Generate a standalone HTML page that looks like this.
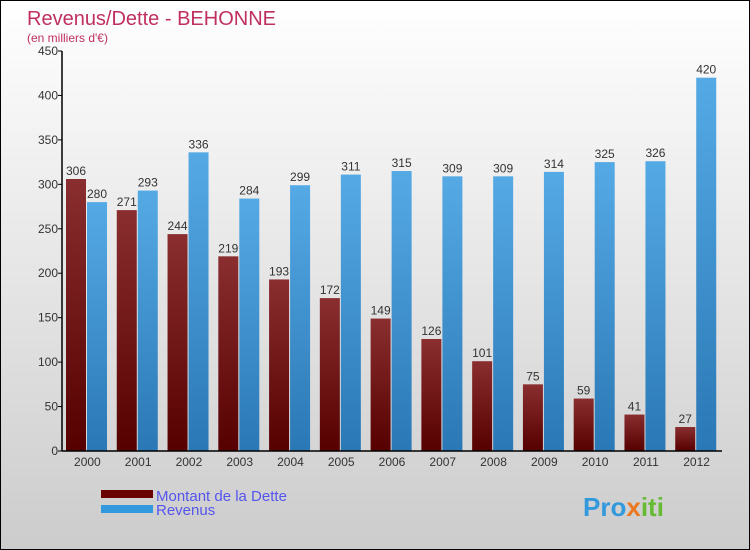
<!DOCTYPE html>
<html><head><meta charset="utf-8"><style>
body{margin:0}
#c{width:750px;height:550px;position:relative;box-sizing:border-box;border:1px solid #000;background:linear-gradient(#fff,#ccc);font-family:"Liberation Sans",sans-serif;overflow:hidden}
</style></head><body>
<div id="c">
<svg id="s" width="750" height="550" style="position:absolute;left:0;top:0">
<text x="26" y="24" font-size="20" fill="#c0305f">Revenus/Dette - BEHONNE</text>
<text x="26" y="41" font-size="12" fill="#c0305f">(en milliers d'€)</text>
<g id="g"></g>
<rect x="100" y="489" width="52" height="8" fill="#6a0000"/>
<rect x="100" y="504" width="52" height="8" fill="#3399dd"/>
<text x="155" y="500" font-size="15" fill="#5555ee">Montant de la Dette</text>
<text x="155" y="514" font-size="15" fill="#5555ee">Revenus</text>
<text x="582" y="515" font-size="26" font-weight="bold" fill="#3399dd">Pro<tspan fill="#ee7722">x</tspan><tspan fill="#66bb33">iti</tspan></text>
</svg>
</div>
<script>
const years=["2000","2001","2002","2003","2004","2005","2006","2007","2008","2009","2010","2011","2012"];
const dette=[306,271,244,219,193,172,149,126,101,75,59,41,27];
const revenus=[280,293,336,284,299,311,315,309,309,314,325,326,420];
const yTicks=[0,50,100,150,200,250,300,350,400,450];
const NS="http://www.w3.org/2000/svg";
const g=document.getElementById('g');
const x0=61,x1=721,yb=450,yt=50,ymax=450;
const gw=(x1-x0)/years.length;
function y(v){return yb-(v/ymax)*(yb-yt);}
function mk(t,a,txt){const e=document.createElementNS(NS,t);for(const k in a)e.setAttribute(k,a[k]);if(txt!==undefined)e.textContent=txt;g.appendChild(e);return e;}
const defs=mk('defs',{});
defs.innerHTML='<linearGradient id="gd" x1="0" y1="0" x2="0" y2="1"><stop offset="0" stop-color="#8a2e30"/><stop offset="1" stop-color="#560000"/></linearGradient><linearGradient id="gr" x1="0" y1="0" x2="0" y2="1"><stop offset="0" stop-color="#55aae5"/><stop offset="1" stop-color="#2a78b5"/></linearGradient>';
years.forEach((yr,i)=>{
  const gx=x0+i*gw;
  let r=mk('rect',{x:gx+4,y:y(dette[i]),width:20,height:yb-y(dette[i]),fill:'url(#gd)'});
  
  
  r=mk('rect',{x:gx+25,y:y(revenus[i]),width:20,height:yb-y(revenus[i]),fill:'url(#gr)'});
  
  
  let t=mk('text',{x:gx+14,y:y(dette[i])-4,'font-size':12,'text-anchor':'middle',fill:'#333'},dette[i]);
  
  
  t=mk('text',{x:gx+35,y:y(revenus[i])-4,'font-size':12,'text-anchor':'middle',fill:'#333'},revenus[i]);
  
  
  t=mk('text',{x:gx+gw/2,y:465,'font-size':12,'text-anchor':'middle',fill:'#333'},yr);
  
  
});
yTicks.forEach(v=>{
  mk('line',{x1:x0-4,x2:x0,y1:y(v),y2:y(v),stroke:'#000'});
  const t=mk('text',{x:x0-4,y:y(v)+4,'font-size':12,'text-anchor':'end',fill:'#333'},v);
  
  
});
let a=mk('line',{x1:x0,x2:x0,y1:yt,y2:yb,stroke:'#000','stroke-width':1.5});


a=mk('line',{x1:x0,x2:x1,y1:yb,y2:yb,stroke:'#000','stroke-width':1.5});


</script>
</body></html>
